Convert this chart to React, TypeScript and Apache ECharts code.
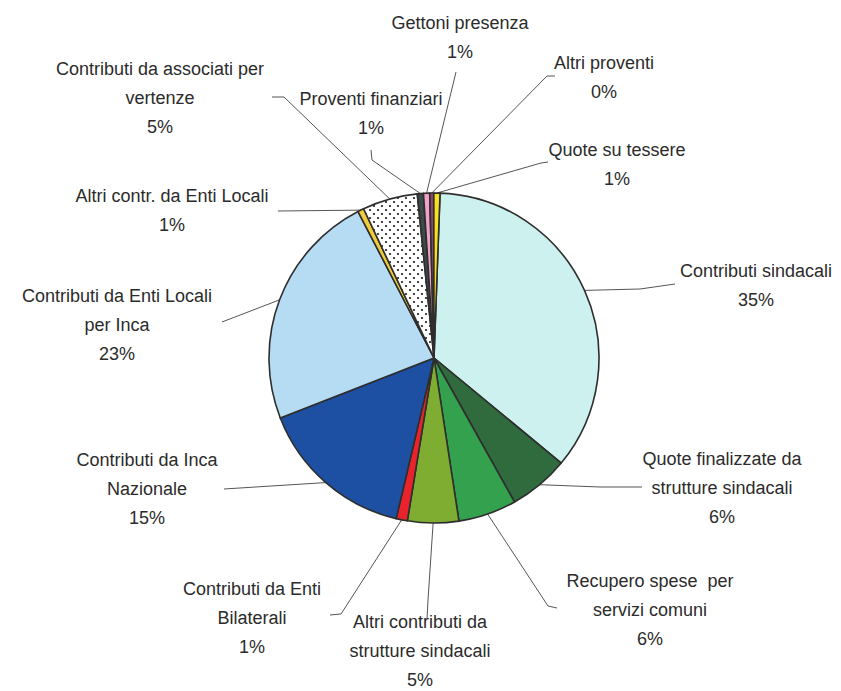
import React, { useEffect, useRef } from 'react';
import * as echarts from 'echarts';

// ---- data ----
const categories = [
  'Contributi sindacali',
  'Quote finalizzate da\nstrutture sindacali',
  'Recupero spese  per\nservizi comuni',
  'Altri contributi da\nstrutture sindacali',
  'Contributi da Enti\nBilaterali',
  'Contributi da Inca\nNazionale',
  'Contributi da Enti Locali\nper Inca',
  'Altri contr. da Enti Locali',
  'Contributi da associati per\nvertenze',
  'Proventi finanziari',
  'Gettoni presenza',
  'Altri proventi',
  'Quote su tessere',
];
const values = [35.4, 5.9, 5.7, 5.0, 1.1, 15.4, 23.3, 0.6, 5.4, 0.6, 0.6, 0.4, 0.6];
const colors = [
  '#CDF1EE', '#2F6B3C', '#34A14E', '#7EAD32', '#E8232B', '#1D50A2',
  '#B6DCF4', '#F0CC3A', 'dots', '#3B4A48', '#F2A2C9', '#8E4470', '#F6E11E',
];

// ---- layout (label anchors and leader-line bends) ----
const labelPos: [number, number][] = [
  [756, 285], [722, 488], [650, 610], [420, 651], [252, 618], [147, 489],
  [117, 325], [172, 210], [160, 98], [371, 113], [460, 37], [604, 77], [617, 164],
];
const lineMid: [number, number][] = [
  [640, 289], [600, 487], [548, 606], [428, 600], [341, 614], [224, 489],
  [222, 322], [278, 211], [284, 97], [372, 160], [456, 72], [547, 76], [541, 163],
];
const lineEnd: [number, number][] = [
  [675, 284], [642, 487], [557, 608], [427, 619], [330, 615], [224, 489],
  [222, 322], [278, 211], [272, 97], [371, 150], [456, 72], [555, 76], [548, 162],
];

function makeDots(): HTMLCanvasElement {
  const c = document.createElement('canvas');
  c.width = 8;
  c.height = 8;
  const ctx = c.getContext('2d')!;
  ctx.fillStyle = '#ffffff';
  ctx.fillRect(0, 0, 8, 8);
  ctx.fillStyle = '#1a1a1a';
  ctx.beginPath();
  ctx.arc(2, 2, 1.1, 0, Math.PI * 2);
  ctx.fill();
  ctx.beginPath();
  ctx.arc(6, 6, 1.1, 0, Math.PI * 2);
  ctx.fill();
  return c;
}

export default function App() {
  const ref = useRef<HTMLDivElement>(null);
  useEffect(() => {
    if (!ref.current) return;
    const chart = echarts.init(ref.current, undefined, { renderer: 'svg' });
    const dots = makeDots();
    const data = categories.map((name, i) => ({
      name,
      value: values[i],
      itemStyle: {
        color: colors[i] === 'dots' ? ({ image: dots, repeat: 'repeat' } as any) : colors[i],
      },
    }));
    chart.setOption({
      animation: false,
      backgroundColor: '#ffffff',
      series: [
        {
          type: 'pie',
          center: [434, 358],
          radius: 165,
          startAngle: 87.9,
          clockwise: true,
          avoidLabelOverlap: false,
          silent: true,
          data,
          itemStyle: { borderColor: '#2e2e2e', borderWidth: 1.6 },
          label: {
            show: true,
            position: 'outside',
            fontFamily: '"Liberation Sans", Arial, sans-serif',
            fontSize: 18,
            lineHeight: 29,
            color: '#2b2b2b',
            align: 'center',
            formatter: (p: any) => `${p.name}\n${Math.round(p.percent)}%`,
          },
          labelLine: {
            show: true,
            lineStyle: { color: '#555555', width: 1 },
          },
          labelLayout: (params: any) => {
            const i = params.dataIndex;
            const start =
              params.labelLinePoints && params.labelLinePoints[0]
                ? params.labelLinePoints[0]
                : lineMid[i];
            return {
              x: labelPos[i][0],
              y: labelPos[i][1],
              align: 'center',
              verticalAlign: 'middle',
              labelLinePoints: [start, lineMid[i], lineEnd[i]],
            };
          },
        },
      ],
    });
    return () => chart.dispose();
  }, []);
  return (
    <div
      ref={ref}
      style={{ position: 'fixed', left: 0, top: 0, width: 841, height: 691, background: '#fff' }}
    />
  );
}
